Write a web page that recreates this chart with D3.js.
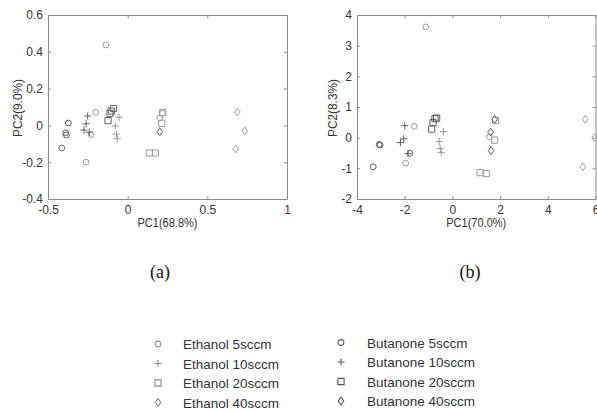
<!DOCTYPE html>
<html>
<head>
<meta charset="utf-8">
<script src="https://cdn.jsdelivr.net/npm/d3@7"></script>
<style>
  body { margin: 0; background: #fff; }
  svg { display: block; }
  .tick text { font-family: "Liberation Sans", Arial, sans-serif; }
</style>
</head>
<body>
<svg id="chart" width="597" height="413"></svg>
<script>
// Legend entries
const groupNames = ["Ethanol 5sccm", "Ethanol 10sccm", "Ethanol 20sccm", "Ethanol 40sccm",
                    "Butanone 5sccm", "Butanone 10sccm", "Butanone 20sccm", "Butanone 40sccm"];
const groupShapes = ["circle", "plus", "square", "diamond", "circle", "plus", "square", "diamond"];

// Panel (a) scores [PC1, PC2]
const ethanol5A   = [[-0.261, -0.200], [-0.200, 0.071], [-0.230, -0.050], [-0.138, 0.437], [0.201, 0.040], [0.218, 0.066]];
const ethanol10A  = [[-0.054, 0.044], [-0.078, -0.003], [-0.071, -0.047], [-0.065, -0.072]];
const ethanol20A  = [[0.136, -0.150], [0.174, -0.150], [0.214, 0.011], [0.220, 0.070]];
const ethanol40A  = [[0.688, 0.073], [0.735, -0.030], [0.678, -0.128]];
const butanone5A  = [[-0.414, -0.123], [-0.389, -0.040], [-0.385, -0.052], [-0.372, 0.013]];
const butanone10A = [[-0.251, 0.051], [-0.261, 0.009], [-0.274, -0.025], [-0.241, -0.037]];
const butanone20A = [[-0.090, 0.092], [-0.103, 0.078], [-0.111, 0.066], [-0.123, 0.026]];
const butanone40A = [[0.201, -0.034]];

// Panel (b) scores [PC1, PC2]
const ethanol5B   = [[-1.12, 3.61], [-1.60, 0.37], [-1.96, -0.83], [1.56, 0.03]];
const ethanol10B  = [[-0.38, 0.20], [-0.55, -0.13], [-0.51, -0.35], [-0.47, -0.49]];
const ethanol20B  = [[1.16, -1.14], [1.42, -1.17], [1.77, -0.08], [1.81, 0.56]];
const ethanol40B  = [[5.57, 0.60], [5.96, 0.00], [5.47, -0.95]];
const butanone5B  = [[-3.07, -0.22], [-3.03, -0.24], [-3.32, -0.95], [-1.78, -0.51]];
const butanone10B = [[-2.00, 0.39], [-2.04, -0.04], [-2.18, -0.16], [-1.86, -0.52]];
const butanone20B = [[-0.87, 0.28], [-0.81, 0.49], [-0.73, 0.62], [-0.66, 0.64]];
const butanone40B = [[1.60, 0.18], [1.62, -0.42], [1.77, 0.60]];

// Axis ticks
const xTicksA = [-0.5, 0, 0.5, 1];
const yTicksA = [-0.4, -0.2, 0, 0.2, 0.4, 0.6];
const xTicksB = [-4, -2, 0, 2, 4, 6];
const yTicksB = [-2, -1, 0, 1, 2, 3, 4];

const panels = [
  { data: [ethanol5A, ethanol10A, ethanol20A, ethanol40A, butanone5A, butanone10A, butanone20A, butanone40A],
    xDomain: [-0.5, 1], yDomain: [-0.4, 0.6], xTicks: xTicksA, yTicks: yTicksA,
    xLabel: "PC1(68.8%)", yLabel: "PC2(9.0%)", caption: "(a)",
    left: 48, right: 287, captionX: 160, yLabelX: 18 },
  { data: [ethanol5B, ethanol10B, ethanol20B, ethanol40B, butanone5B, butanone10B, butanone20B, butanone40B],
    xDomain: [-4, 6], yDomain: [-2, 4], xTicks: xTicksB, yTicks: yTicksB,
    xLabel: "PC1(70.0%)", yLabel: "PC2(8.3%)", caption: "(b)",
    left: 357, right: 595.5, captionX: 470, yLabelX: 333 }
];

const plotTop = 15, plotBottom = 199;
const frameColor = "#8a8a8a";
const textColor = "#333";
const groupColor = i => i < 4 ? "#9a9a9a" : "#5e5e5e";
const fmt = d => String(d);

// marker shapes (MATLAB-like outlines)
const shapeTypes = {
  circle:  { draw(c, s) { const r = 2.9; c.moveTo(r, 0); c.arc(0, 0, r, 0, 2 * Math.PI); } },
  plus:    { draw(c, s) { const r = 3.6; c.moveTo(-r, 0); c.lineTo(r, 0); c.moveTo(0, -r); c.lineTo(0, r); } },
  square:  { draw(c, s) { const r = 3.1; c.rect(-r, -r, 2 * r, 2 * r); } },
  diamond: { draw(c, s) { const w = 2.8, h = 3.9; c.moveTo(0, -h); c.lineTo(w, 0); c.lineTo(0, h); c.lineTo(-w, 0); c.closePath(); } }
};

const svg = d3.select("#chart");

panels.forEach(p => {
  const x = d3.scaleLinear().domain(p.xDomain).range([p.left, p.right]);
  const y = d3.scaleLinear().domain(p.yDomain).range([plotBottom, plotTop]);
  const g = svg.append("g");

  // frame with inward ticks on all four sides
  const axes = [
    { axis: d3.axisBottom(x).tickValues(p.xTicks).tickFormat(fmt).tickSizeInner(-3).tickSizeOuter(0).tickPadding(6), tr: `translate(0,${plotBottom})` },
    { axis: d3.axisTop(x).tickValues(p.xTicks).tickSizeInner(-3).tickSizeOuter(0).tickFormat(""), tr: `translate(0,${plotTop})` },
    { axis: d3.axisLeft(y).tickValues(p.yTicks).tickFormat(fmt).tickSizeInner(-3).tickSizeOuter(0).tickPadding(5), tr: `translate(${p.left},0)` },
    { axis: d3.axisRight(y).tickValues(p.yTicks).tickSizeInner(-3).tickSizeOuter(0).tickFormat(""), tr: `translate(${p.right},0)` }
  ];
  axes.forEach(a => {
    const ag = g.append("g").attr("transform", a.tr).call(a.axis);
    ag.select(".domain").attr("stroke", frameColor);
    ag.selectAll(".tick line").attr("stroke", frameColor);
    ag.selectAll(".tick text").attr("fill", textColor).style("font-size", "12px");
  });

  // axis titles
  g.append("text")
    .attr("x", (p.left + p.right) / 2).attr("y", 227)
    .attr("text-anchor", "middle")
    .attr("fill", textColor)
    .style("font", "12px 'Liberation Sans', Arial, sans-serif")
    .attr("textLength", 60).attr("lengthAdjust", "spacingAndGlyphs")
    .text(p.xLabel);
  g.append("text")
    .attr("transform", `translate(${p.yLabelX + 4},108) rotate(-90)`)
    .attr("text-anchor", "middle")
    .attr("fill", textColor)
    .style("font", "12px 'Liberation Sans', Arial, sans-serif")
    .attr("textLength", 58).attr("lengthAdjust", "spacingAndGlyphs")
    .text(p.yLabel);

  // caption
  g.append("text")
    .attr("x", p.captionX).attr("y", 278)
    .attr("text-anchor", "middle")
    .attr("fill", "#111")
    .style("font", "18px 'Liberation Serif', 'Times New Roman', serif")
    .text(p.caption);

  // points
  p.data.forEach((pts, i) => {
    const sym = d3.symbol().type(shapeTypes[groupShapes[i]]);
    g.append("g").selectAll("path")
      .data(pts)
      .join("path")
        .attr("transform", d => `translate(${x(d[0])},${y(d[1])})`)
        .attr("d", sym)
        .attr("fill", "none")
        .attr("stroke", groupColor(i))
        .attr("stroke-width", 1);
  });
});

// legend
const legend = svg.append("g");
const legendRows = [344, 363.5, 383, 402.5];
groupNames.forEach((name, i) => {
  const col = i < 4 ? 0 : 1;
  const row = i % 4;
  const sx = col === 0 ? 158 : 341;
  const tx = col === 0 ? 183 : 367;
  const yy = legendRows[row] - (col === 1 ? 1.5 : 0);
  legend.append("path")
    .attr("transform", `translate(${sx},${yy})`)
    .attr("d", d3.symbol().type(shapeTypes[groupShapes[i]])())
    .attr("fill", "none")
    .attr("stroke", col === 0 ? "#8a8a8a" : "#555")
    .attr("stroke-width", 1.1);
  legend.append("text")
    .attr("x", tx).attr("y", yy + 5)
    .attr("fill", textColor)
    .style("font", "13.5px 'Liberation Sans', Arial, sans-serif")
    .text(name);
});
</script>
</body>
</html>
